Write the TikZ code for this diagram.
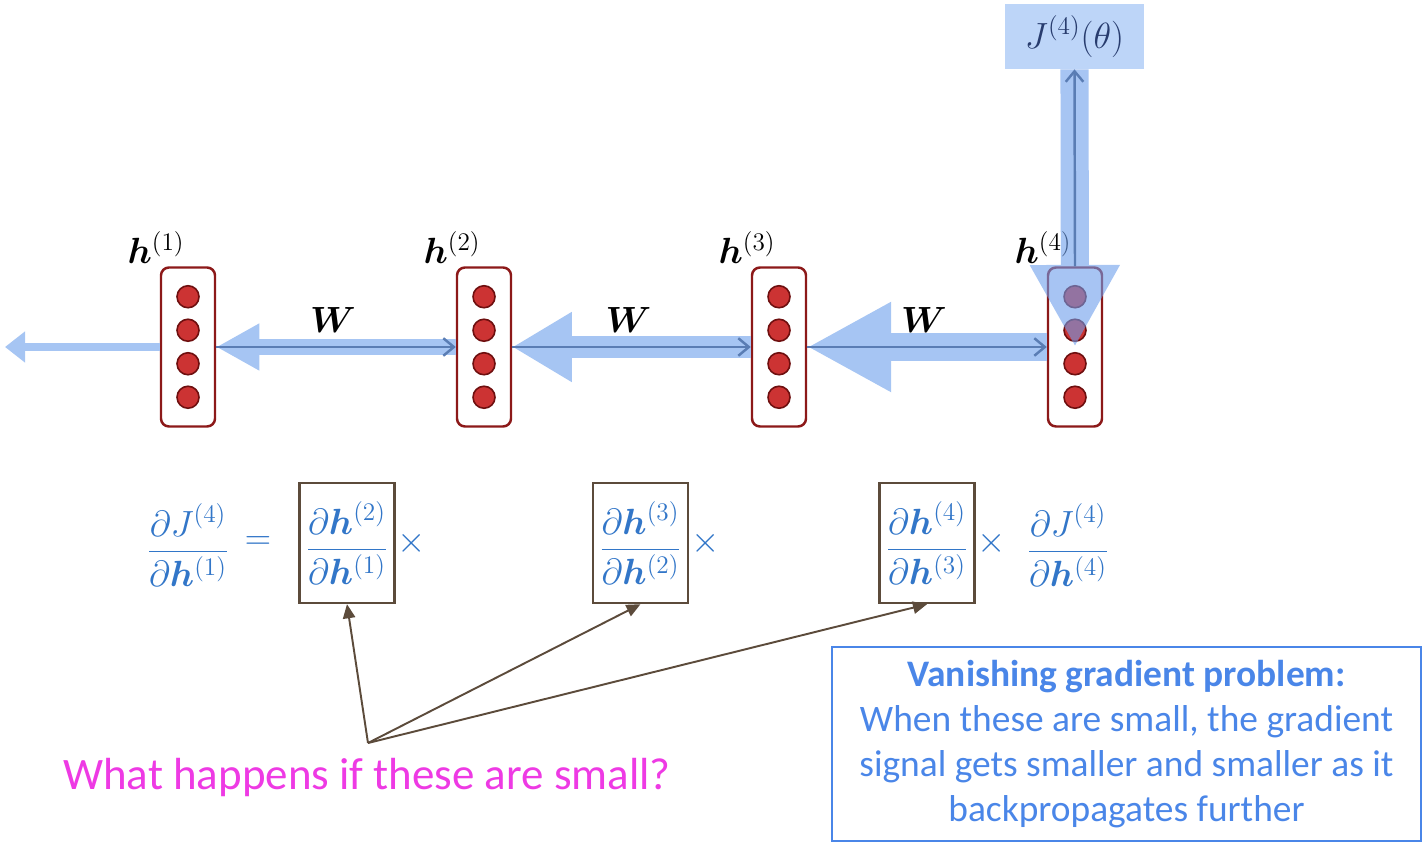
\documentclass[tikz,border=0pt]{standalone}
\usepackage{amsmath,bm}
\usepackage[no-math]{fontspec}
\newfontfamily\carlito{Carlito}
\usetikzlibrary{arrows.meta,positioning,calc}
\definecolor{cellred}{RGB}{204,51,51}
\definecolor{dotborder}{RGB}{110,15,15}
\definecolor{cellborder}{RGB}{140,25,25}
\definecolor{gradblue}{RGB}{109,158,235}
\definecolor{flatblue}{RGB}{166,197,243}
\definecolor{fwdblue}{RGB}{90,125,180}
\definecolor{lossbox}{RGB}{189,213,248}
\definecolor{lossink}{RGB}{40,60,110}
\definecolor{eqblue}{RGB}{50,118,200}
\definecolor{ptrbrown}{RGB}{92,75,59}
\definecolor{askpink}{RGB}{238,58,228}
\definecolor{noteblue}{RGB}{74,134,232}
\tikzset{
  cell/.style={draw=cellborder, line width=1.4pt, rounded corners=4.5pt, fill=white,
    minimum width=1.08cm, minimum height=3.18cm, inner sep=0pt},
  unitdot/.style={fill=cellred, draw=dotborder, line width=0.9pt},
  hlab/.style={font=\fontsize{21}{24}\selectfont},
  wlab/.style={font=\fontsize{21}{24}\selectfont},
  backln/.style={draw=flatblue, line width=#1},
  fwdln/.style={-{Straight Barb[length=6pt,width=10pt]}, draw=fwdblue, line width=1.4pt},
  eqn/.style={text=eqblue, font=\fontsize{22}{25}\selectfont, inner sep=0pt},
  factorbox/.style={draw=ptrbrown, line width=1.4pt, minimum width=1.9cm, minimum height=2.4cm,
    inner sep=0pt, text=eqblue, font=\fontsize{22}{25}\selectfont},
  ptr/.style={-{Triangle[length=8pt,width=7pt]}, draw=ptrbrown, fill=ptrbrown, line width=1.1pt},
}
\begin{document}
\begin{tikzpicture}[x=0.02cm, y=-0.02cm]
  \useasboundingbox (0,0) rectangle (1427,847);
  % --- loss ---
  \node[fill=lossbox, minimum width=2.78cm, minimum height=1.3cm, text=lossink,
    font=\fontsize{22}{25}\selectfont] (J) at (1074.5,36.5) {$J^{(4)}(\theta)$};
  % --- hidden states ---
  \foreach \i/\x in {1/188,2/484,3/779,4/1075} {
    \node[cell] (h\i) at (\x,347) {};
    \foreach \k in {-1.5,-0.5,0.5,1.5}
      \draw[unitdot] ($(h\i.center)+(0,\k*33.5)$) circle (0.22cm);
    \node[hlab] at ($(h\i.north)+(-32,-19)$) {$\bm{h}^{(\i)}$};
  }
  % --- gradient flowing back ---
  \coordinate (lend) at (5,347);
  \draw[backln=5.1pt, -{Triangle[length=11.4pt,width=17pt]}] (h1.west) -- (lend);
  \draw[backln=9.1pt, -{Triangle[length=24.5pt,width=25pt]}] (h2.west) -- (h1.east);
  \draw[backln=12pt, -{Triangle[length=34pt,width=37.5pt]}] (h3.west) -- (h2.east);
  \draw[backln=16.5pt, -{Triangle[length=47.8pt,width=47.8pt]}] (h4.west) -- (h3.east);
  % --- forward connections ---
  \foreach \a/\b in {1/2,2/3,3/4} {
    \draw[fwdln] (h\a.east) -- (h\b.west);
    \node[wlab] at ($(h\a.east)!0.5!(h\b.west)+(-3,-27)$) {$\bm{W}$};
  }
  \begin{scope}[transparency group, opacity=0.6]
    \draw[draw=gradblue, line width=16pt, -{Triangle[length=46.7pt,width=47.8pt]}]
      (J.south) -- (h4.center);
  \end{scope}
  \draw[fwdln] (h4.north) -- (J.south);
  % --- chain rule ---
  \node[eqn] (lhs) at (188,545) {$\dfrac{\partial J^{(4)}}{\partial \bm{h}^{(1)}}$};
  \node[eqn] (eq) at (258,543) {$=$};
  \node[factorbox] (b1) at (347,543) {$\dfrac{\partial \bm{h}^{(2)}}{\partial \bm{h}^{(1)}}$};
  \node[factorbox] (b2) at (640.5,543) {$\dfrac{\partial \bm{h}^{(3)}}{\partial \bm{h}^{(2)}}$};
  \node[factorbox] (b3) at (927,543) {$\dfrac{\partial \bm{h}^{(4)}}{\partial \bm{h}^{(3)}}$};
  \foreach \i in {1,2,3}
    \node[eqn, right=1pt of b\i] (x\i) {$\times$};
  \node[eqn] (rhs) at (1068,545) {$\dfrac{\partial J^{(4)}}{\partial \bm{h}^{(4)}}$};
  % --- question ---
  \node[text=askpink, font=\carlito\fontsize{25.6}{30}\selectfont] (ask) at (367,778)
    {What happens if these are small?};
  \coordinate (src) at (368,743);
  \foreach \i in {1,2,3}
    \draw[ptr] (src) -- (b\i.south);
  % --- note ---
  \node[draw=noteblue, line width=1.1pt, minimum width=11.78cm, minimum height=3.88cm,
    text=noteblue, align=center, font=\carlito\fontsize{21.3}{25.6}\selectfont] (note)
    at (1126.5,744) {\textbf{Vanishing gradient problem:}\\When these are small, the gradient\\
    signal gets smaller and smaller as it\\backpropagates further};
\end{tikzpicture}
\end{document}
